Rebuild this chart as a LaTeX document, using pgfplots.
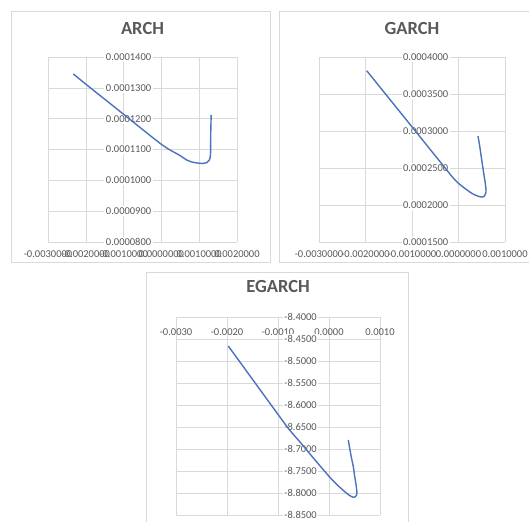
\documentclass[border=0pt]{standalone}
\usepackage{pgfplots}
\pgfplotsset{compat=1.18}
\usepackage{fontspec}
\setmainfont{Carlito}

\definecolor{gridgray}{HTML}{D9D9D9}
\definecolor{labelgray}{HTML}{595959}
\definecolor{lineblue}{HTML}{4A72BE}

% tick labels sit under the curves, as in the Excel charts
\pgfplotsset{
  layers/excel/.define layer set={axis background,axis grid,axis ticks,axis lines,axis tick labels,pre main,main,axis descriptions,axis foreground}{},
  excel/.style={
    set layers=excel,
    scale only axis, anchor=north west,
    grid=major, major grid style={draw=gridgray, line width=0.6bp},
    axis x line=bottom, axis y line=center,
    hide obscured x ticks=false, hide obscured y ticks=false,
    axis line style={draw=none},
    major tick length=0pt,
    scaled ticks=false,
    tick label style={font=\fontsize{10.5bp}{12bp}\selectfont, text=labelgray},
    /pgf/number format/assume math mode=true,
    /pgf/number format/fixed, /pgf/number format/fixed zerofill,
    yticklabel style={fill=white, inner sep=1.5bp, anchor=east},
    title style={font=\fontsize{18.5bp}{22bp}\selectfont\bfseries, text=labelgray,
      anchor=center, at={(0.5,1)}},
  },
}

\begin{document}
\begin{tikzpicture}
\draw[gridgray, line width=0.6bp] (11bp,-11bp) rectangle (270bp,-262bp);
\draw[gridgray, line width=0.6bp] (279bp,-11bp) rectangle (535bp,-262bp);
\draw[gridgray, line width=0.6bp] (146bp,-272bp) rectangle (408bp,-530bp);

% ARCH
\begin{axis}[excel,
  at={(48bp,-57bp)}, width=189bp, height=185bp,
  title=ARCH, title style={yshift=23bp},
  xmin=-0.003, xmax=0.002, ymin=0.00008, ymax=0.00014,
  xtick={-0.003,-0.002,-0.001,0,0.001,0.002},
  ytick={0.00008,0.00009,0.0001,0.00011,0.00012,0.00013,0.00014},
  xticklabel style={/pgf/number format/precision=7, yshift=-5bp},
  yticklabel style={/pgf/number format/precision=7, xshift=-8.5bp},
]
\addplot[lineblue, line width=1.4bp, smooth, tension=0.5] coordinates {
(-0.002331,0.0001345) (-0.001889,0.0001301) (-0.001360,0.00012495)
(-0.000831,0.00011976) (-0.000302,0.00011457) (0.000024,0.00011146)
(0.000228,0.00010984) (0.000492,0.00010805) (0.000669,0.0001066)
(0.000836,0.00010585) (0.001021,0.00010552) (0.001127,0.00010552)
(0.001198,0.00010572) (0.001259,0.00010643) (0.001286,0.00010715)
(0.001299,0.00010854) (0.001304,0.00010984) (0.001304,0.00011308)
(0.001307,0.00011632) (0.001312,0.00011892) (0.001317,0.00012119)
};
\end{axis}

% GARCH
\begin{axis}[excel,
  at={(319bp,-57bp)}, width=186bp, height=185bp,
  title=GARCH, title style={yshift=23bp},
  xmin=-0.003, xmax=0.001, ymin=0.00015, ymax=0.0004,
  xtick={-0.003,-0.002,-0.001,0,0.001},
  ytick={0.00015,0.0002,0.00025,0.0003,0.00035,0.0004},
  xticklabel style={/pgf/number format/precision=7, yshift=-5bp},
  yticklabel style={/pgf/number format/precision=7, xshift=-8.5bp},
]
\addplot[lineblue, line width=1.4bp, smooth, tension=0.5] coordinates {
(-0.001974,0.0003815) (-0.001688,0.0003592) (-0.001258,0.0003257)
(-0.000828,0.0002922) (-0.000398,0.0002586) (-0.000075,0.0002338)
(0.000140,0.0002223) (0.000312,0.0002149) (0.000462,0.0002111)
(0.000548,0.0002115) (0.000591,0.0002176) (0.000581,0.0002270)
(0.000548,0.0002405) (0.000516,0.0002540) (0.000484,0.0002676)
(0.000452,0.0002811) (0.000419,0.0002932)
};
\end{axis}

% EGARCH
\begin{axis}[excel,
  at={(176bp,-317bp)}, width=204bp, height=198bp,
  axis x line=top,
  title=EGARCH, title style={yshift=25bp},
  xmin=-0.003, xmax=0.001, ymin=-8.85, ymax=-8.4,
  xtick={-0.003,-0.002,-0.001,0,0.001},
  ytick={-8.85,-8.8,-8.75,-8.7,-8.65,-8.6,-8.55,-8.5,-8.45,-8.4},
  xticklabel style={/pgf/number format/precision=4, anchor=north, yshift=-8bp},
  yticklabel style={/pgf/number format/precision=4, xshift=-10.5bp},
]
\addplot[lineblue, line width=1.4bp, smooth, tension=0.5] coordinates {
(-0.001975,-8.4659) (-0.001647,-8.5182) (-0.001255,-8.5807)
(-0.000798,-8.6530) (-0.000569,-8.6841) (-0.000241,-8.7295)
(0.000084,-8.7727) (0.000347,-8.8007) (0.000477,-8.8098)
(0.000543,-8.8045) (0.000539,-8.7886) (0.000500,-8.7591)
(0.000477,-8.7402) (0.000441,-8.7204) (0.000412,-8.7023)
(0.000378,-8.6795)
};
\end{axis}

\pgfresetboundingbox
\path[use as bounding box] (0,0) rectangle (529bp,-522bp);
\end{tikzpicture}
\end{document}
